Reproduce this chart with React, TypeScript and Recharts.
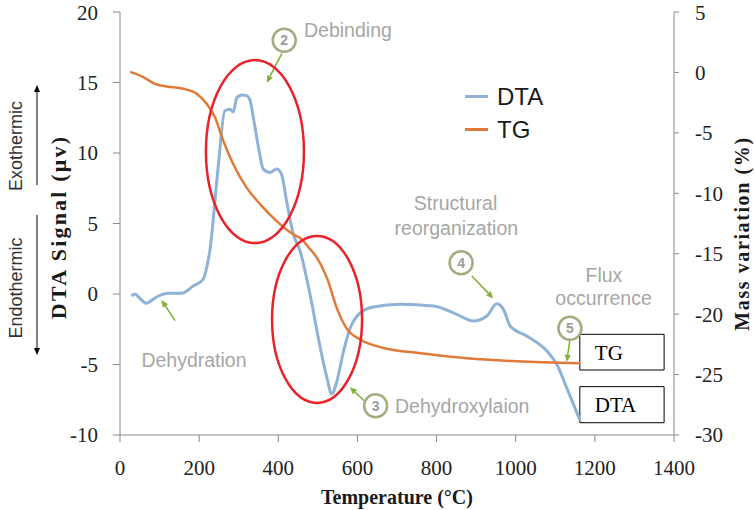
import React from "react"
import { LineChart, Line, XAxis, YAxis, ReferenceDot, ReferenceLine, ReferenceArea, Legend, Label } from "recharts"

// DTA curve (left axis, µV)
const dtaTemps = [29, 38, 50, 67, 80, 97, 122, 156, 185, 210, 219, 227, 248, 265, 278, 286, 295, 307, 320, 329, 337, 350, 362, 379, 396, 408, 421, 438, 455, 480, 506, 523, 535, 548, 565, 582, 607, 640, 708, 792, 851, 893, 927, 952, 969, 986, 1028, 1079, 1104, 1129, 1163]
const dtaSignal = [-0.14, 0, -0.3, -0.66, -0.45, -0.14, 0.05, 0.05, 0.57, 1.04, 1.87, 3.06, 8.98, 13.0, 13.1, 12.9, 13.9, 14.12, 14.07, 13.7, 12.5, 10.4, 8.86, 8.62, 8.86, 8.5, 6.6, 4.24, 3.06, 0, -3.8, -5.95, -7.1, -6.2, -4.05, -2.4, -1.33, -0.92, -0.73, -0.85, -1.44, -1.92, -1.56, -0.69, -1.09, -2.27, -2.98, -4.05, -5.0, -6.66, -9.0]

// TG curve (right axis, %)
const tgTemps = [26, 59, 88, 118, 160, 194, 219, 240, 261, 286, 320, 354, 396, 438, 455, 480, 497, 523, 548, 573, 607, 666, 750, 877, 1003, 1163]
const tgMass = [0.05, -0.39, -0.94, -1.16, -1.35, -1.77, -2.6, -3.7, -5.65, -7.58, -9.53, -10.9, -12.3, -13.4, -13.7, -14.6, -15.3, -17.0, -19.5, -21.2, -22.1, -22.8, -23.2, -23.65, -23.9, -24.06]

const tempTicks = [0, 200, 400, 600, 800, 1000, 1200, 1400]
const dtaTicks = [-10, -5, 0, 5, 10, 15, 20]
const massTicks = [-30, -25, -20, -15, -10, -5, 0, 5]

const dtaData = dtaTemps.map((t, i) => ({ t, dta: dtaSignal[i] }))
const tgData = tgTemps.map((t, i) => ({ t, tg: tgMass[i] }))

// annotations, in data coordinates of the left axis
const ellipses = [
  { t: 341, v: 10.1, rx: 49, ry: 91.5 },
  { t: 498, v: -1.8, rx: 45, ry: 83.5 },
]
const badges = [
  { n: "2", t: 415, v: 18.0 },
  { n: "3", t: 646, v: -7.92 },
  { n: "4", t: 862, v: 2.22 },
  { n: "5", t: 1137, v: -2.43 },
]
const notes = [
  { text: "Debinding", t: 465, v: 18.74, anchor: "start" },
  { text: "Dehydration", t: 187, v: -4.66, anchor: "middle" },
  { text: "Dehydroxylaion", t: 695, v: -7.91, anchor: "start" },
  { text: "Structural", t: 848, v: 6.43, anchor: "middle" },
  { text: "reorganization", t: 850, v: 4.7, anchor: "middle" },
  { text: "Flux", t: 1223, v: 1.35, anchor: "middle" },
  { text: "occurrence", t: 1222, v: -0.3, anchor: "middle" },
]
const arrows = [
  { from: [139, -1.89], to: [105, -0.43] },
  { from: [409, 17.07], to: [371, 14.99] },
  { from: [617, -7.57], to: [581, -6.62] },
  { from: [889, 1.28], to: [943, -0.3] },
  { from: [1137, -3.26], to: [1129, -4.8] },
]

const SANS = "'Liberation Sans', Arial, Helvetica, sans-serif"
const SERIF = "'Liberation Serif', 'Times New Roman', serif"

const ArrowShape = (props: any) => {
  const { x1, y1, x2, y2 } = props
  const a = Math.atan2(y2 - y1, x2 - x1)
  const len = 7
  const w = 3.2
  const bx = x2 - len * Math.cos(a)
  const by = y2 - len * Math.sin(a)
  const px = -Math.sin(a) * w
  const py = Math.cos(a) * w
  return (
    <g>
      <line x1={x1} y1={y1} x2={bx} y2={by} stroke="#84b03c" strokeWidth={1.6} />
      <polygon points={`${x2},${y2} ${bx + px},${by + py} ${bx - px},${by - py}`} fill="#84b03c" />
    </g>
  )
}

const BlackArrow = ({ x, y1, y2 }: { x: number; y1: number; y2: number }) => {
  const dir = y2 > y1 ? 1 : -1
  return (
    <g>
      <line x1={x} y1={y1} x2={x} y2={y2 - dir * 6} stroke="#000" strokeWidth={1} />
      <polygon points={`${x},${y2} ${x - 3},${y2 - dir * 7} ${x + 3},${y2 - dir * 7}`} fill="#000" />
    </g>
  )
}

const LeftTitle = (props: any) => {
  const { x, y } = props.viewBox
  return (
    <g>
      <text
        transform={`translate(${x + 58},${y + 215}) rotate(-90)`}
        textAnchor="middle"
        dominantBaseline="central"
        fontFamily={SERIF}
        fontWeight="bold"
        fontSize={22}
        letterSpacing={2.2}
        fill="#1a1a1a"
      >
        DTA Signal (μv)
      </text>
      <text transform={`translate(${x + 16},${y + 134}) rotate(-90)`} textAnchor="middle" dominantBaseline="central" fontFamily={SANS} fontSize={18} fill="#333">
        Exothermic
      </text>
      <text transform={`translate(${x + 16},${y + 276}) rotate(-90)`} textAnchor="middle" dominantBaseline="central" fontFamily={SANS} fontSize={18} fill="#333">
        Endothermic
      </text>
      <BlackArrow x={x + 37} y1={y + 173} y2={y + 73} />
      <BlackArrow x={x + 37} y1={y + 203} y2={y + 343} />
    </g>
  )
}

const RightTitle = (props: any) => {
  const { x, y, height } = props.viewBox
  return (
    <text
      transform={`translate(${x + 68},${y + height / 2 + 10}) rotate(-90)`}
      textAnchor="middle"
      dominantBaseline="central"
      fontFamily={SERIF}
      fontWeight="bold"
      fontSize={20}
      letterSpacing={1.6}
      fill="#1a1a1a"
    >
      Mass variation (%)
    </text>
  )
}

const renderLegend = (props: any) => (
  <div style={{ fontFamily: SANS, fontSize: 24, color: "#1a1a1a" }}>
    {(props.payload || []).map((p: any) => (
      <div key={p.value} style={{ display: "flex", alignItems: "center", height: 33 }}>
        <span style={{ display: "inline-block", width: 23, height: 3, background: p.color, marginRight: 9 }} />
        <span>{p.value}</span>
      </div>
    ))}
  </div>
)

const tickStyle = { fontFamily: SERIF, fontSize: 21, fill: "#222" }

export default function App() {
  return (
    <div style={{ position: "absolute", left: 0, top: 0, width: 755, height: 510, background: "#fff" }}>
      <LineChart width={755} height={510} margin={{ top: 12, right: 0, left: 0, bottom: 0 }}>
        <XAxis
          dataKey="t"
          type="number"
          domain={[0, 1400]}
          ticks={tempTicks}
          allowDataOverflow
          height={75}
          stroke="#888"
          tickSize={7}
          tickMargin={18}
          tick={tickStyle}
        >
          <Label
            value="Temperature (°C)"
            position="insideBottom"
            offset={6}
            style={{ fontFamily: SERIF, fontWeight: "bold", fontSize: 20, fill: "#1a1a1a" }}
          />
        </XAxis>
        <YAxis
          yAxisId="left"
          domain={[-10, 20]}
          ticks={dtaTicks}
          width={120}
          stroke="#888"
          tickSize={7}
          tickMargin={15}
          tick={tickStyle}
        >
          <Label content={LeftTitle} />
        </YAxis>
        <YAxis
          yAxisId="right"
          orientation="right"
          domain={[-30, 5]}
          ticks={massTicks}
          width={81}
          stroke="#888"
          tickSize={5}
          tickMargin={16}
          tick={tickStyle}
        >
          <Label content={RightTitle} />
        </YAxis>
        <Legend
          layout="vertical"
          align="center"
          verticalAlign="middle"
          content={renderLegend}
          wrapperStyle={{ left: 465, top: 80, width: 120 }}
        />
        <ReferenceArea yAxisId="left" x1={1162} x2={1375} y1={-2.86} y2={-5.39} fill="#fff" fillOpacity={1} stroke="#000" strokeWidth={1}>
          <Label value="TG" position="insideLeft" offset={15} style={{ fontFamily: SERIF, fontSize: 21, fill: "#000" }} />
        </ReferenceArea>
        <ReferenceArea yAxisId="left" x1={1162} x2={1375} y1={-6.57} y2={-9.13} fill="#fff" fillOpacity={1} stroke="#000" strokeWidth={1}>
          <Label value="DTA" position="insideLeft" offset={15} style={{ fontFamily: SERIF, fontSize: 21, fill: "#000" }} />
        </ReferenceArea>
        <Line
          yAxisId="left"
          data={dtaData}
          dataKey="dta"
          name="DTA"
          type="monotone"
          stroke="#8fb2d7"
          strokeWidth={3}
          dot={false}
          isAnimationActive={false}
        />
        <Line
          yAxisId="right"
          data={tgData}
          dataKey="tg"
          name="TG"
          type="monotone"
          stroke="#e07a38"
          strokeWidth={2.5}
          dot={false}
          isAnimationActive={false}
        />
        {ellipses.map((e, i) => (
          <ReferenceDot
            key={`el-${i}`}
            yAxisId="left"
            x={e.t}
            y={e.v}
            shape={(p: any) => <ellipse cx={p.cx} cy={p.cy} rx={e.rx} ry={e.ry} fill="none" stroke="#e8232a" strokeWidth={2.5} />}
          />
        ))}
        {arrows.map((a, i) => (
          <ReferenceLine
            key={`ar-${i}`}
            yAxisId="left"
            segment={[{ x: a.from[0], y: a.from[1] }, { x: a.to[0], y: a.to[1] }]}
            shape={ArrowShape}
          />
        ))}
        {badges.map((b) => (
          <ReferenceDot
            key={`b-${b.n}`}
            yAxisId="left"
            x={b.t}
            y={b.v}
            shape={(p: any) => (
              <g>
                <circle cx={p.cx} cy={p.cy} r={11.5} fill="#fff" stroke="#a3ac80" strokeWidth={2.5} />
                <text x={p.cx} y={p.cy} textAnchor="middle" dominantBaseline="central" fontFamily={SANS} fontWeight="bold" fontSize={14} fill="#9b9b9b">
                  {b.n}
                </text>
              </g>
            )}
          />
        ))}
        {notes.map((n) => (
          <ReferenceDot
            key={n.text}
            yAxisId="left"
            x={n.t}
            y={n.v}
            shape={(p: any) => (
              <text x={p.cx} y={p.cy} textAnchor={n.anchor} dominantBaseline="central" fontFamily={SANS} fontSize={19.5} fill="#a6a6a6">
                {n.text}
              </text>
            )}
          />
        ))}
      </LineChart>
    </div>
  )
}
